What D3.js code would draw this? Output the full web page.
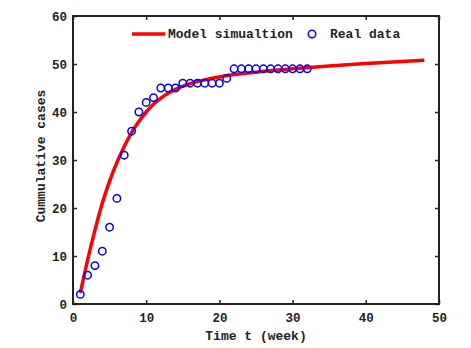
<!DOCTYPE html>
<html>
<head>
<meta charset="utf-8">
<script src="https://cdn.jsdelivr.net/npm/d3@7"></script>
<style>
  body { margin: 0; background: #fff; }
  text { font-family: "Liberation Mono", "DejaVu Sans Mono", monospace; font-weight: bold; fill: #222; }
</style>
</head>
<body>
<div id="chart"></div>
<script>
// observed weekly cumulative cases
var weeks = [1,2,3,4,5,6,7,8,9,10,11,12,13,14,15,16,17,18,19,20,21,22,23,24,25,26,27,28,29,30,31,32];
var cases = [2,6,8,11,16,22,31,36,40,42,43,45,45,45,46,46,46,46,46,46,47,49,49,49,49,49,49,49,49,49,49,49];

// model curve
var modelT = [1,2,3,4,5,6,7,8,9,10,11,12,13,14,16,18,20,22,25,30,35,40,48];
var modelY = [2.3,9.2,15.4,21,25.6,29.5,32.8,35.7,38,40,41.6,42.9,43.9,44.7,45.9,46.7,47.3,47.8,48.3,49,49.6,50.1,50.8];

var xTicks = [0,10,20,30,40,50];
var yTicks = [0,10,20,30,40,50,60];

var width = 471, height = 348;
var margin = {left: 73, right: 32, top: 16, bottom: 44};

var svg = d3.select("#chart").append("svg")
  .attr("width", width)
  .attr("height", height);

var x = d3.scaleLinear().domain([0, 50]).range([margin.left, width - margin.right]);
var y = d3.scaleLinear().domain([0, 60]).range([height - margin.bottom, margin.top]);

// ticks all round, pointing inward
var axisStyle = function(g) {
  g.select(".domain").remove();
  g.selectAll("line").attr("stroke", "#222").attr("stroke-width", 1.5);
  g.selectAll("text").style("font-size", "12.5px");
};

svg.append("g")
  .attr("transform", "translate(0," + y(0) + ")")
  .call(d3.axisBottom(x).tickValues(xTicks).tickSize(-4).tickPadding(9))
  .call(axisStyle);
svg.append("g")
  .attr("transform", "translate(0," + y(60) + ")")
  .call(d3.axisTop(x).tickValues(xTicks).tickSize(-4).tickFormat(""))
  .call(axisStyle);
svg.append("g")
  .attr("transform", "translate(" + x(0) + ",0)")
  .call(d3.axisLeft(y).tickValues(yTicks).tickSize(-4).tickPadding(6))
  .call(axisStyle);
svg.append("g")
  .attr("transform", "translate(" + x(50) + ",0)")
  .call(d3.axisRight(y).tickValues(yTicks).tickSize(-4).tickFormat(""))
  .call(axisStyle);

svg.append("rect")
  .attr("x", x(0)).attr("y", y(60))
  .attr("width", x(50) - x(0)).attr("height", y(0) - y(60))
  .attr("fill", "none").attr("stroke", "#222").attr("stroke-width", 2);

// model line
var line = d3.line()
  .curve(d3.curveMonotoneX)
  .x(function(d, i) { return x(modelT[i]); })
  .y(function(d) { return y(d); });

svg.append("path")
  .attr("d", line(modelY))
  .attr("fill", "none")
  .attr("stroke", "#ff0000")
  .attr("stroke-width", 3.5);

// real data
svg.selectAll(".pt")
  .data(cases)
  .enter().append("circle")
  .attr("class", "pt")
  .attr("cx", function(d, i) { return x(weeks[i]); })
  .attr("cy", function(d) { return y(d); })
  .attr("r", 3.7)
  .attr("fill", "none")
  .attr("stroke", "#0000ff")
  .attr("stroke-width", 1.5);

// legend
var leg = svg.append("g");
leg.append("line")
  .attr("x1", 132).attr("x2", 165).attr("y1", 34).attr("y2", 34)
  .attr("stroke", "#ff0000").attr("stroke-width", 3.5);
leg.append("text").attr("x", 168).attr("y", 38)
  .style("font-size", "13px").text("Model simualtion");
leg.append("circle")
  .attr("cx", 312).attr("cy", 34).attr("r", 3.7)
  .attr("fill", "none").attr("stroke", "#0000ff").attr("stroke-width", 1.5);
leg.append("text").attr("x", 330).attr("y", 38)
  .style("font-size", "13px").text("Real data");

// axis labels
svg.append("text")
  .attr("x", (x(0) + x(50)) / 2).attr("y", 340)
  .attr("text-anchor", "middle")
  .style("font-size", "13px")
  .text("Time t (week)");
svg.append("text")
  .attr("transform", "translate(45,156) rotate(-90)")
  .attr("text-anchor", "middle")
  .style("font-size", "13px")
  .text("Cummulative cases");
</script>
</body>
</html>
